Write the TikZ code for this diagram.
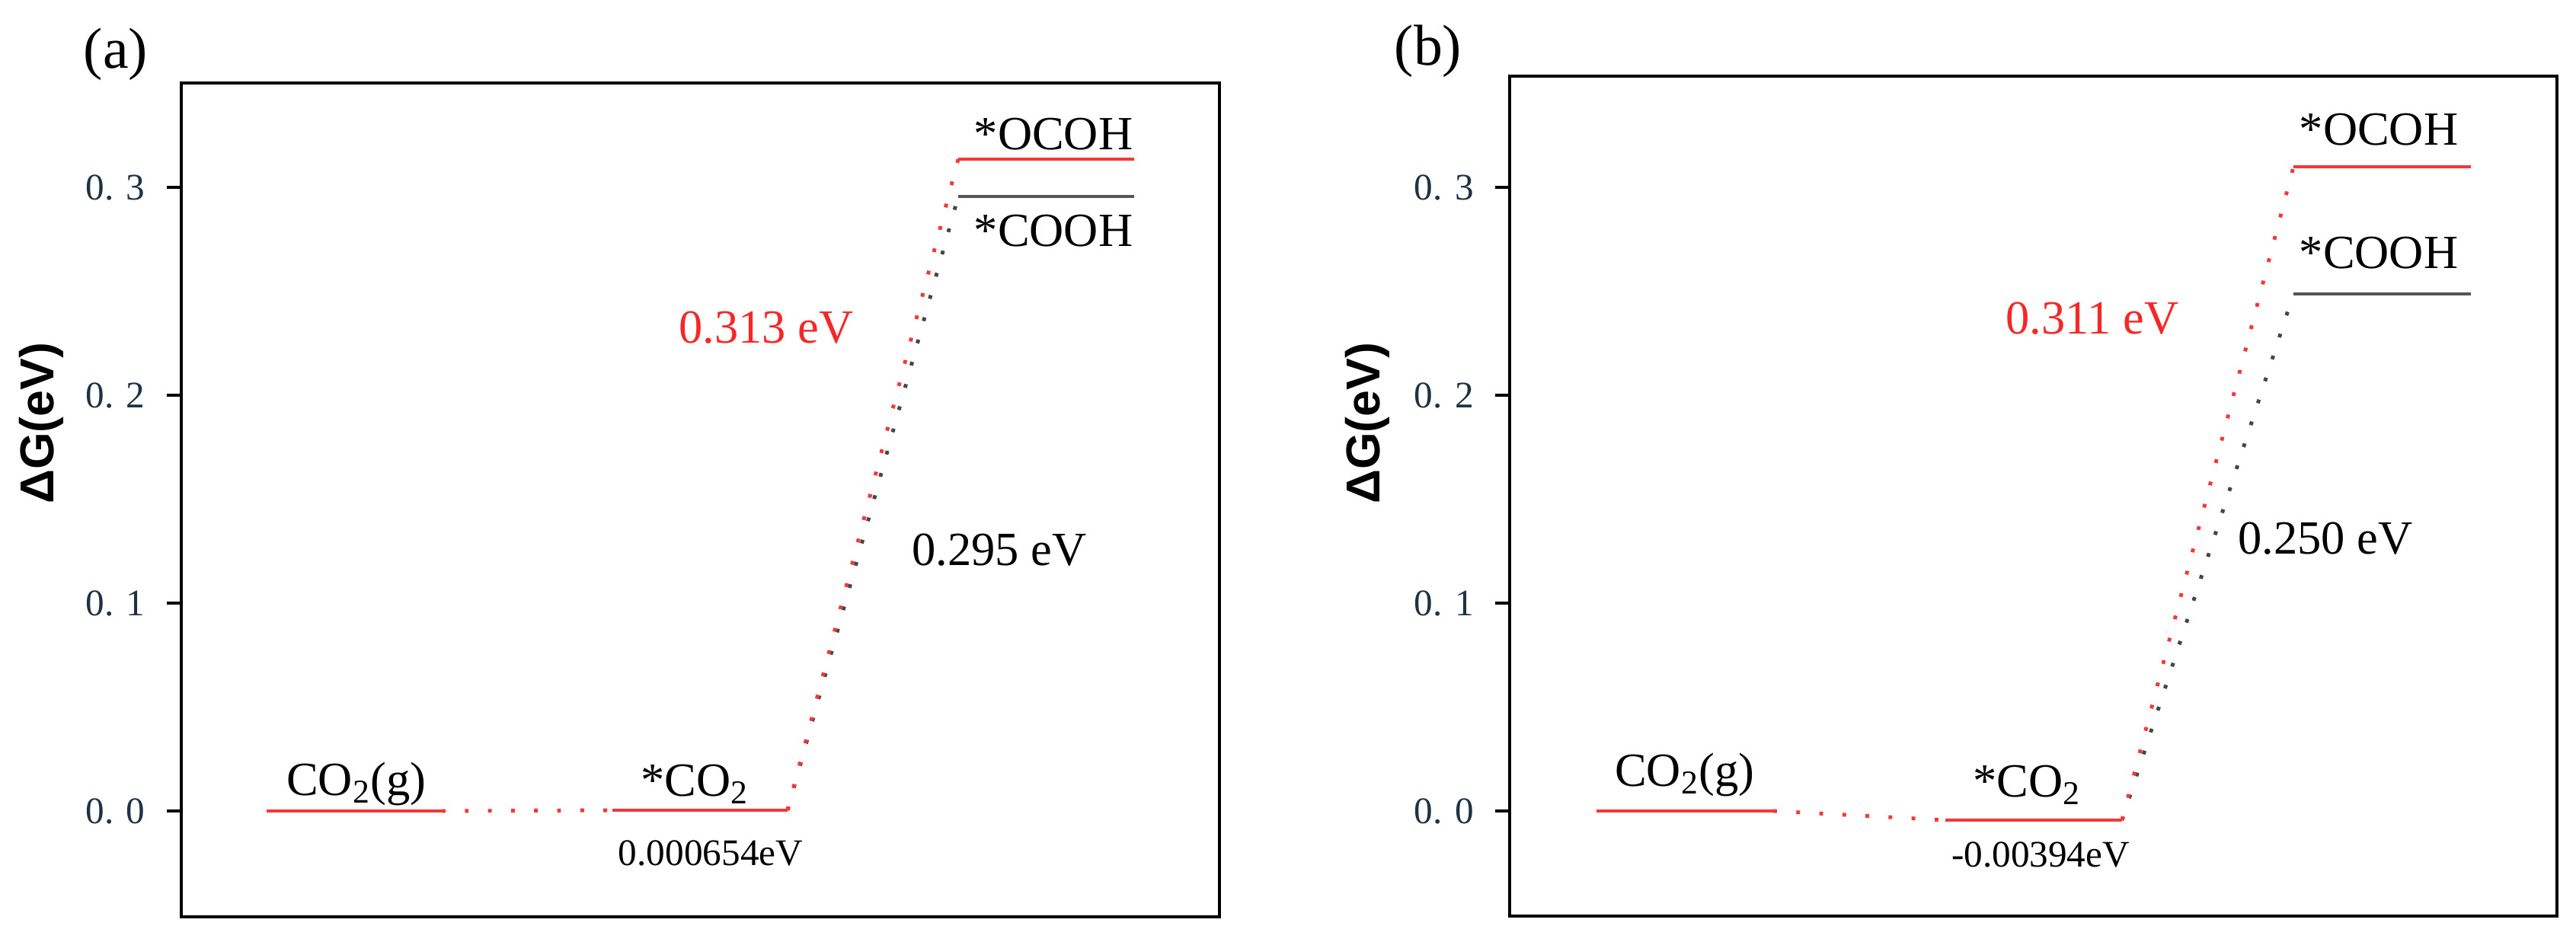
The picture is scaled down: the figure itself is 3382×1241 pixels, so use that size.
\documentclass[tikz,border=0pt]{standalone}
\usepackage{fontspec}
\setmainfont{Liberation Serif}
\setsansfont{Liberation Sans}
\begin{document}
\begin{tikzpicture}[x=0.009273cm,y=-0.009273cm,
  lvl/.style={line width=1.1pt},
  red lvl/.style={lvl,draw={rgb,255:red,245;green,55;blue,55}},
  gray lvl/.style={lvl,draw={rgb,255:red,85;green,85;blue,85}},
  dotr/.style={line width=1.3pt,dash pattern=on 1.3pt off 6.7pt,draw={rgb,255:red,245;green,55;blue,55}},
  dotg/.style={line width=1.3pt,dash pattern=on 1.3pt off 6.7pt,draw={rgb,255:red,70;green,70;blue,70}},
  lab/.style={font=\fontsize{16.5}{18}\selectfont},
  small/.style={font=\fontsize{13}{15}\selectfont},
  tick/.style={font=\fontsize{13}{15}\selectfont,text={rgb,255:red,30;green,50;blue,70},anchor=east},
  ylab/.style={font=\sffamily\bfseries\fontsize{16.5}{18}\selectfont,rotate=90},
  frame/.style={line width=1.1pt}]
\useasboundingbox (0,0) rectangle (3382,1241);
\definecolor{rl}{RGB}{245,40,40}
% ---------- panel a
\node[font=\fontsize{20}{22}\selectfont] (pa) at (152,71) {(a)};
\draw[frame] (238,109) rectangle (1601,1204);
\foreach \v/\y in {0. 0/1065,0. 1/792,0. 2/519,0. 3/246}{
  \draw[frame] (219,\y) -- (238,\y);
  \node[tick] at (204,\y) {\v};}
\node[ylab] (ya) at (54,556) {ΔG(eV)};
\draw[red lvl] (350,1065) coordinate (a1) -- (580,1065) coordinate (a1r);
\draw[red lvl] (804,1064) coordinate (a2) -- (1034,1064) coordinate (a2r);
\draw[red lvl] (1258,209) coordinate (a3) -- (1489,209);
\draw[gray lvl] (1258,258) coordinate (a4) -- (1489,258);
\draw[dotr] (a1r) -- (a2);
\draw[dotg] (a2r) -- (a4);
\draw[dotr] (a2r) -- (a3);
\node[lab] (ta1) at (468,1030) {CO\textsubscript{2}(g)};
\node[lab] (ta2) at (912,1030) {*CO\textsubscript{2}};
\node[small] (ta2b) at (933,1120) {0.000654eV};
\node[lab] (ta3) at (1383,176) {*OCOH};
\node[lab] (ta4) at (1383,303) {*COOH};
\node[lab,text=rl] (ta5) at (1006,430) {0.313 eV};
\node[lab] (ta6) at (1312,722) {0.295 eV};
% ---------- panel b
\node[font=\fontsize{20}{22}\selectfont] (pb) at (1875,67) {(b)};
\draw[frame] (1982,100) rectangle (3357,1203);
\foreach \v/\y in {0. 0/1065,0. 1/792,0. 2/519,0. 3/246}{
  \draw[frame] (1963,\y) -- (1982,\y);
  \node[tick] at (1948,\y) {\v};}
\node[ylab] (yb) at (1795,556) {ΔG(eV)};
\draw[red lvl] (2096,1065) coordinate (b1) -- (2328,1065) coordinate (b1r);
\draw[red lvl] (2554,1077) coordinate (b2) -- (2786,1077) coordinate (b2r);
\draw[red lvl] (3011,219) coordinate (b3) -- (3244,219);
\draw[gray lvl] (3011,386) coordinate (b4) -- (3244,386);
\draw[dotr] (b1r) -- (b2);
\draw[dotg] (b2r) -- (b4);
\draw[dotr] (b2r) -- (b3);
\node[lab] (tb1) at (2212,1018) {CO\textsubscript{2}(g)};
\node[lab] (tb2) at (2661,1031) {*CO\textsubscript{2}};
\node[small] (tb2b) at (2679,1122) {-0.00394eV};
\node[lab] (tb3) at (3123,170) {*OCOH};
\node[lab] (tb4) at (3123,332) {*COOH};
\node[lab,text=rl] (tb5) at (2747,418) {0.311 eV};
\node[lab] (tb6) at (3053,707) {0.250 eV};
\end{tikzpicture}
\end{document}
